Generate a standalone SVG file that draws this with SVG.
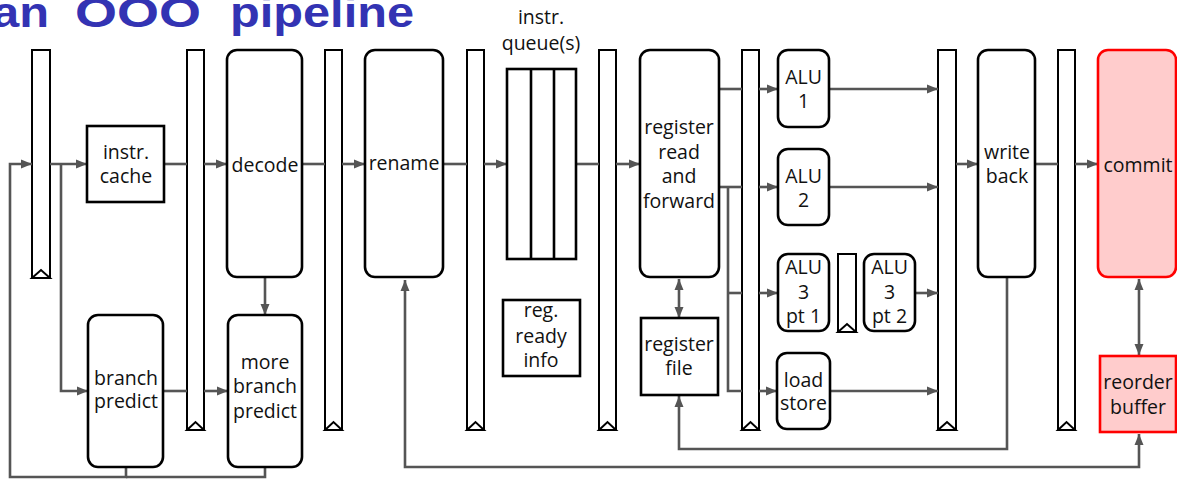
<svg xmlns="http://www.w3.org/2000/svg" width="1177" height="479" viewBox="0 0 1177 479">
<style>
  text { font-family: "Open Sans", "DejaVu Sans", sans-serif; font-size: 19.5px; fill: #111; text-anchor: middle; }
  .title { font-family: "Liberation Sans", "DejaVu Sans", sans-serif; font-weight: bold; font-size: 42px; fill: #3333b3; text-anchor: start; }
  .node { fill: #fff; stroke: #000; stroke-width: 2.6; }
  .red { fill: #ffcccc; stroke: #ff0000; stroke-width: 2.6; }
  .preg { fill: #fff; stroke: #000; stroke-width: 2; }
  .tri { fill: #fff; stroke: #000; stroke-width: 2; stroke-linejoin: miter; }
  .c { fill: none; stroke: #555; stroke-width: 2.6; }
  .a { marker-end: url(#ah); }
  .b { marker-start: url(#ah); marker-end: url(#ah); }
</style>
<defs>
  <marker id="ah" markerUnits="userSpaceOnUse" markerWidth="12" markerHeight="10" refX="11" refY="5" orient="auto-start-reverse">
    <path d="M0,0.5 L11,5 L0,9.5 z" fill="#555"/>
  </marker>
</defs>

<text class="title" y="27"><tspan x="-8" textLength="57" lengthAdjust="spacingAndGlyphs">an</tspan><tspan x="75" textLength="126" lengthAdjust="spacingAndGlyphs">OOO</tspan><tspan x="230" textLength="184" lengthAdjust="spacingAndGlyphs">pipeline</tspan></text>

<g id="pipeline-registers">
  <g id="preg1"><rect class="preg" x="32" y="50" width="18" height="228"/><path class="tri" d="M32,278 L41,270 L50,278 z"/></g>
  <g id="preg2"><rect class="preg" x="187" y="50" width="17" height="380"/><path class="tri" d="M187,430 L195.5,422 L204,430 z"/></g>
  <g id="preg3"><rect class="preg" x="325" y="50" width="17" height="380"/><path class="tri" d="M325,430 L333.5,422 L342,430 z"/></g>
  <g id="preg4"><rect class="preg" x="467" y="50" width="17" height="380"/><path class="tri" d="M467,430 L475.5,422 L484,430 z"/></g>
  <g id="preg5"><rect class="preg" x="599" y="50" width="17" height="380"/><path class="tri" d="M599,430 L607.5,422 L616,430 z"/></g>
  <g id="preg6"><rect class="preg" x="742" y="50" width="17" height="380"/><path class="tri" d="M742,430 L750.5,422 L759,430 z"/></g>
  <g id="preg7"><rect class="preg" x="938" y="50" width="18" height="380"/><path class="tri" d="M938,430 L947,422 L956,430 z"/></g>
  <g id="preg8"><rect class="preg" x="1058" y="50" width="17" height="380"/><path class="tri" d="M1058,430 L1066.5,422 L1075,430 z"/></g>
  <g id="preg-alu3"><rect class="preg" x="838" y="254" width="18" height="78"/><path class="tri" d="M838,332 L847,324 L856,332 z"/></g>
</g>

<g id="connectors">
  <path class="c" d="M265,467 V477 H126"/>
  <path class="c a" d="M126,467 V477 H10 V164 H32"/>
  <path class="c a" d="M50,164 H87"/>
  <path class="c a" d="M61,164 V391 H88"/>
  <path class="c" d="M164,164 H187"/>
  <path class="c a" d="M204,164 H227"/>
  <path class="c" d="M163,391 H187"/>
  <path class="c a" d="M204,391 H228"/>
  <path class="c a" d="M265,277 V315"/>
  <path class="c" d="M302,164 H325"/>
  <path class="c a" d="M342,164 H365"/>
  <path class="c" d="M443,164 H467"/>
  <path class="c a" d="M484,164 H507"/>
  <path class="c" d="M576,164 H599"/>
  <path class="c a" d="M616,164 H640"/>
  <path class="c" d="M719,89 H742"/>
  <path class="c a" d="M759,89 H778"/>
  <path class="c" d="M719,187 H742"/>
  <path class="c a" d="M759,187 H778"/>
  <path class="c" d="M728,187 V391 H742"/>
  <path class="c" d="M728,293 H742"/>
  <path class="c a" d="M759,293 H778"/>
  <path class="c a" d="M759,391 H777"/>
  <path class="c a" d="M829,89 H938"/>
  <path class="c a" d="M829,187 H938"/>
  <path class="c a" d="M915,293 H938"/>
  <path class="c a" d="M830,391 H938"/>
  <path class="c a" d="M956,164 H978"/>
  <path class="c" d="M1035,164 H1058"/>
  <path class="c a" d="M1075,164 H1098"/>
  <path class="c b" d="M679,279 V318"/>
  <path class="c b" d="M1139,279 V355"/>
  <path class="c a" d="M1007,277 V449 H679 V396"/>
  <path class="c b" d="M405,280 V467 H1139 V434"/>
</g>

<g id="instr-cache"><rect class="node" x="87" y="126" width="77" height="76"/><text x="126" y="159">instr.</text><text x="126" y="183">cache</text></g>
<g id="decode"><rect class="node" x="227" y="50" width="75" height="227" rx="10"/><text x="265" y="172">decode</text></g>
<g id="branch-predict"><rect class="node" x="88" y="315" width="75" height="152" rx="10"/><text x="126" y="385">branch</text><text x="126" y="408">predict</text></g>
<g id="more-branch-predict"><rect class="node" x="228" y="315" width="74" height="152" rx="10"/><text x="265" y="369">more</text><text x="265" y="393">branch</text><text x="265" y="418">predict</text></g>
<g id="rename"><rect class="node" x="365" y="50" width="78" height="227" rx="10"/><text x="404" y="170">rename</text></g>
<g id="instr-queues"><text x="541" y="24">instr.</text><text x="541" y="50">queue(s)</text><rect class="node" x="507" y="69" width="69" height="190"/><path class="node" d="M531,69 V259 M554,69 V259"/></g>
<g id="reg-ready-info"><rect class="node" x="503" y="300" width="77" height="76"/><text x="541" y="317">reg.</text><text x="541" y="343">ready</text><text x="541" y="367">info</text></g>
<g id="register-read"><rect class="node" x="640" y="50" width="79" height="227" rx="10"/><text x="679" y="134">register</text><text x="679" y="159">read</text><text x="679" y="183">and</text><text x="679" y="208">forward</text></g>
<g id="register-file"><rect class="node" x="641" y="318" width="77" height="77"/><text x="679" y="351">register</text><text x="679" y="375">file</text></g>
<g id="alu1"><rect class="node" x="778" y="50" width="51" height="77" rx="10"/><text x="803.5" y="84">ALU</text><text x="803.5" y="108">1</text></g>
<g id="alu2"><rect class="node" x="778" y="149" width="51" height="76" rx="10"/><text x="803.5" y="183">ALU</text><text x="803.5" y="207">2</text></g>
<g id="alu3-pt1"><rect class="node" x="778" y="254" width="51" height="77" rx="10"/><text x="803.5" y="274">ALU</text><text x="803.5" y="299">3</text><text x="803.5" y="323">pt 1</text></g>
<g id="alu3-pt2"><rect class="node" x="864" y="254" width="51" height="77" rx="10"/><text x="889.5" y="274">ALU</text><text x="889.5" y="299">3</text><text x="889.5" y="323">pt 2</text></g>
<g id="load-store"><rect class="node" x="777" y="353" width="53" height="76" rx="10"/><text x="803.5" y="387">load</text><text x="803.5" y="410">store</text></g>
<g id="write-back"><rect class="node" x="978" y="50" width="57" height="227" rx="10"/><text x="1007" y="159">write</text><text x="1007" y="183">back</text></g>
<g id="commit"><rect class="red" x="1098" y="50" width="78" height="227" rx="10"/><text x="1138" y="172">commit</text></g>
<g id="reorder-buffer"><rect class="red" x="1100" y="356" width="76" height="76"/><text x="1138" y="389">reorder</text><text x="1138" y="414">buffer</text></g>
</svg>
